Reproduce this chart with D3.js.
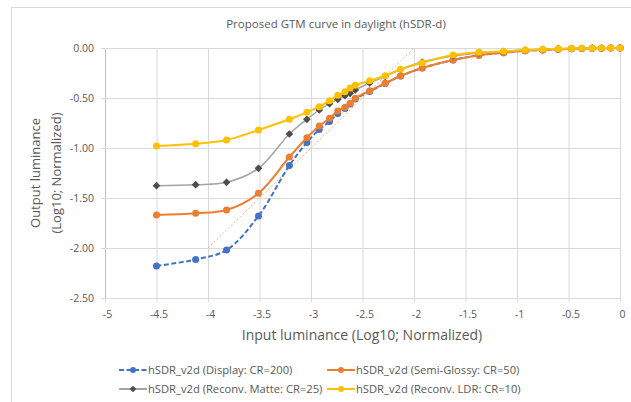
<!DOCTYPE html>
<html>
<head>
<meta charset="utf-8">
<script src="https://cdn.jsdelivr.net/npm/d3@7"></script>
<style>
  body { margin: 0; background: #fff; }
  text { font-family: "Open Sans", sans-serif; fill: #595959; }
</style>
</head>
<body>
<svg id="chart" width="631" height="402"></svg>
<script>
  // input luminance (log10) shared by all series
  var xVals = [-4.5, -4.12, -3.82, -3.51, -3.21, -3.04, -2.92, -2.82, -2.74, -2.67, -2.62, -2.57, -2.43, -2.28,
               -2.13, -1.92, -1.62, -1.37, -1.13, -0.92, -0.75, -0.60, -0.47, -0.37, -0.27, -0.18, -0.09, 0];

  var displayCR200 = [-2.18, -2.115, -2.02, -1.68, -1.175, -0.945, -0.815, -0.735, -0.655, -0.605, -0.56, -0.51, -0.435, -0.355,
                      -0.28, -0.2, -0.12, -0.073, -0.047, -0.027, -0.02, -0.013, -0.008, -0.005, -0.003, -0.002, -0.001, 0];
  var glossyCR50   = [-1.67, -1.653, -1.62, -1.453, -1.09, -0.897, -0.78, -0.703, -0.63, -0.593, -0.553, -0.503, -0.427, -0.353,
                      -0.28, -0.2, -0.12, -0.073, -0.047, -0.027, -0.02, -0.013, -0.008, -0.005, -0.003, -0.002, -0.001, 0];
  var matteCR25    = [-1.377, -1.367, -1.343, -1.203, -0.86, -0.713, -0.62, -0.557, -0.513, -0.477, -0.453, -0.42, -0.35, -0.285,
                      -0.215, -0.14, -0.08, -0.05, -0.035, -0.02, -0.013, -0.008, -0.005, -0.003, -0.002, -0.001, 0, 0];
  var ldrCR10      = [-0.98, -0.957, -0.92, -0.82, -0.713, -0.643, -0.587, -0.527, -0.473, -0.437, -0.40, -0.373, -0.327, -0.277,
                      -0.213, -0.147, -0.07, -0.043, -0.033, -0.02, -0.013, -0.008, -0.005, -0.003, -0.002, -0.001, 0, 0];

  // dotted 1:1 guide
  var refX = [-4, -2];
  var refY = [-2, 0];

  var xTicks = [-5, -4.5, -4, -3.5, -3, -2.5, -2, -1.5, -1, -0.5, 0];
  var yTicks = [0, -0.5, -1, -1.5, -2, -2.5];

  var seriesNames = ["hSDR_v2d (Display: CR=200)", "hSDR_v2d (Semi-Glossy: CR=50)",
                     "hSDR_v2d (Reconv. Matte: CR=25)", "hSDR_v2d (Reconv. LDR: CR=10)"];

  var series = [
    { name: seriesNames[0], values: displayCR200, line: "#4472C4", mark: "#4472C4", dash: "5,2.5", shape: "circle", lx: 119, ly: 370 },
    { name: seriesNames[1], values: glossyCR50,   line: "#ED7D31", mark: "#ED7D31", dash: null,    shape: "circle", lx: 327, ly: 370 },
    { name: seriesNames[2], values: matteCR25,    line: "#A5A5A5", mark: "#4D4D4D", dash: null,    shape: "diamond", lx: 119, ly: 389 },
    { name: seriesNames[3], values: ldrCR10,      line: "#FFC000", mark: "#FFC000", dash: null,    shape: "circle", lx: 327, ly: 389 }
  ];

  var svg = d3.select("#chart");

  // chart border
  svg.append("rect")
    .attr("x", 11.5).attr("y", 7.5)
    .attr("width", 660).attr("height", 420)
    .attr("fill", "none").attr("stroke", "#D9D9D9");

  var x = d3.scaleLinear().domain([-5, 0]).range([105, 620]);
  var y = d3.scaleLinear().domain([-2.5, 0]).range([298, 48]);

  // grid + axes (plain hyphen minus like the original)
  var gx = svg.append("g")
    .attr("transform", "translate(0,298)")
    .call(d3.axisBottom(x).tickValues(xTicks).tickSize(-250).tickSizeOuter(0)
      .tickFormat(function(d) { return String(d); }));
  gx.selectAll(".tick line").attr("stroke", "#D9D9D9").attr("y2", -250).attr("y1", 4);
  gx.select(".domain").attr("stroke", "#BFBFBF");
  gx.selectAll(".tick text").attr("y", 13).attr("dy", "0.71em").attr("dx", 2)
    .style("font-size", "10.5px").style("font-family", "Open Sans").attr("fill", "#595959");

  var gy = svg.append("g")
    .attr("transform", "translate(105,0)")
    .call(d3.axisLeft(y).tickValues(yTicks).tickSize(-515).tickSizeOuter(0)
      .tickFormat(function(d) { return d.toFixed(2); }));
  gy.selectAll(".tick line").attr("stroke", "#D9D9D9").attr("x2", 515).attr("x1", -4);
  gy.select(".domain").attr("stroke", "#BFBFBF");
  gy.selectAll(".tick text").attr("x", -11)
    .style("font-size", "10.5px").style("font-family", "Open Sans").attr("fill", "#595959");

  // guide line
  svg.append("path")
    .datum(d3.zip(refX, refY))
    .attr("fill", "none")
    .attr("stroke", "#F4B183")
    .attr("stroke-width", 1)
    .attr("stroke-dasharray", "2,2")
    .attr("d", d3.line().x(function(d) { return x(d[0]); }).y(function(d) { return y(d[1]); }));

  var line = d3.line()
    .curve(d3.curveCatmullRom.alpha(0.5))
    .x(function(d) { return x(d[0]); })
    .y(function(d) { return y(d[1]); });

  var diamond = d3.symbol().type(d3.symbolSquare).size(30);

  series.forEach(function(s) {
    var pts = d3.zip(xVals, s.values);
    svg.append("path")
      .datum(pts)
      .attr("fill", "none")
      .attr("stroke", s.line)
      .attr("stroke-width", s.shape === "diamond" ? 1.5 : 2)
      .attr("stroke-dasharray", s.dash)
      .attr("d", line);

    var g = svg.append("g");
    if (s.shape === "circle") {
      g.selectAll("circle").data(pts).enter().append("circle")
        .attr("cx", function(d) { return x(d[0]); })
        .attr("cy", function(d) { return y(d[1]); })
        .attr("r", 3.5)
        .attr("fill", s.mark);
    } else {
      g.selectAll("path").data(pts).enter().append("path")
        .attr("d", diamond)
        .attr("transform", function(d) { return "translate(" + x(d[0]) + "," + y(d[1]) + ") rotate(45)"; })
        .attr("fill", s.mark);
    }

    // legend entry
    var lg = svg.append("g").attr("transform", "translate(" + s.lx + "," + s.ly + ")");
    lg.append("line")
      .attr("x1", 0).attr("x2", 28)
      .attr("stroke", s.line).attr("stroke-width", 2)
      .attr("stroke-dasharray", s.dash);
    if (s.shape === "circle") {
      lg.append("circle").attr("cx", 14).attr("r", 3).attr("fill", s.mark);
    } else {
      lg.append("path").attr("d", d3.symbol().type(d3.symbolSquare).size(22))
        .attr("transform", "translate(14,0) rotate(45)").attr("fill", s.mark);
    }
    lg.append("text")
      .attr("x", 29).attr("dy", "0.35em")
      .style("font-size", "11.2px")
      .text(s.name);
  });

  // titles
  svg.append("text")
    .attr("x", 336).attr("y", 28)
    .attr("text-anchor", "middle")
    .style("font-size", "11.5px")
    .text("Proposed GTM curve in daylight (hSDR-d)");

  svg.append("text")
    .attr("x", 362).attr("y", 340)
    .attr("text-anchor", "middle")
    .style("font-size", "14px")
    .text("Input luminance (Log10; Normalized)");

  var yt = svg.append("text")
    .attr("transform", "translate(40,173) rotate(-90)")
    .attr("text-anchor", "middle")
    .style("font-size", "13px");
  yt.append("tspan").attr("x", 0).attr("y", 0).text("Output luminance");
  yt.append("tspan").attr("x", 0).attr("y", 21).text("(Log10; Normalized)");
</script>
</body>
</html>
